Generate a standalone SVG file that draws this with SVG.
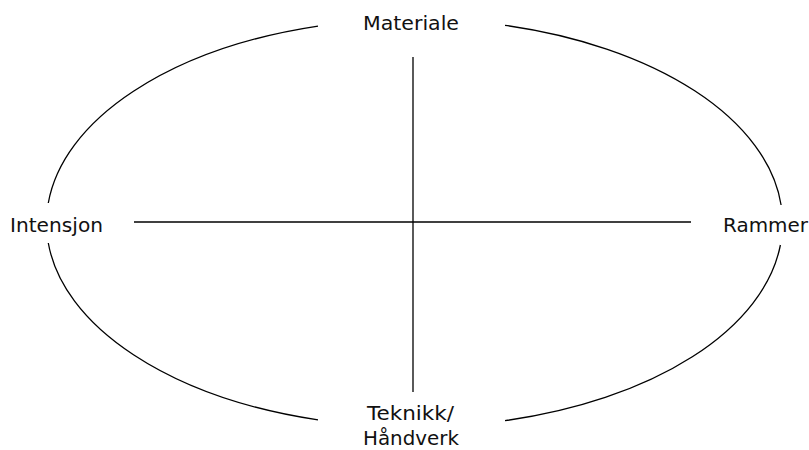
<svg xmlns="http://www.w3.org/2000/svg" width="809" height="450" viewBox="0 0 809 450">
<style>
.ln{fill:none;stroke:#000;stroke-width:1.3}
.t{font-family:"DejaVu Sans","Liberation Sans",sans-serif;font-size:20px;fill:#111}
</style>
<rect width="809" height="450" fill="#fff"/>
<g id="connectors">
<path class="ln" d="M48.3,203 A368,204 0 0 1 318,26.1"/>
<path class="ln" d="M505,25.3 A368,204 0 0 1 781.1,205"/>
<path class="ln" d="M780.4,245 A368,204 0 0 1 505,420.7"/>
<path class="ln" d="M318,419.9 A368,204 0 0 1 48.3,243"/>
<line class="ln" x1="134" y1="222" x2="691" y2="222"/>
<line class="ln" x1="413" y1="57" x2="413" y2="392"/>
</g>
<g id="materiale"><text class="t" x="411" y="30" text-anchor="middle" textLength="96" lengthAdjust="spacingAndGlyphs">Materiale</text></g>
<g id="intensjon"><text class="t" x="10" y="232" textLength="93" lengthAdjust="spacingAndGlyphs">Intensjon</text></g>
<g id="rammer"><text class="t" x="723" y="232" textLength="85" lengthAdjust="spacingAndGlyphs">Rammer</text></g>
<g id="teknikk"><text class="t" x="410.5" y="420" text-anchor="middle" textLength="87" lengthAdjust="spacingAndGlyphs">Teknikk/</text><text class="t" x="411" y="445" text-anchor="middle" textLength="96" lengthAdjust="spacingAndGlyphs">Håndverk</text></g>
</svg>
